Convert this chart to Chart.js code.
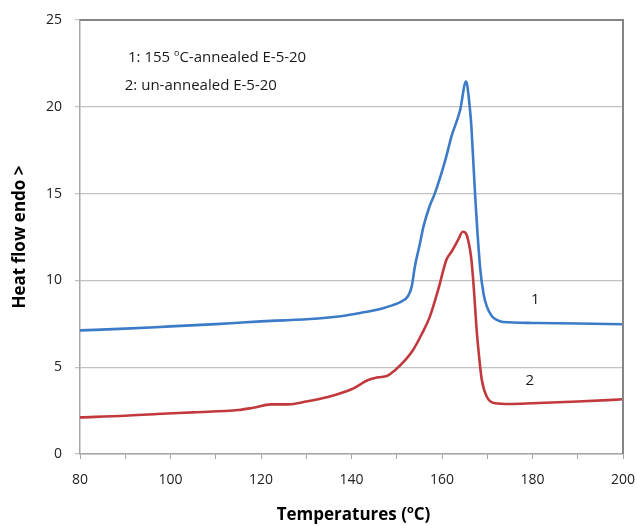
<!DOCTYPE html>
<html><head><meta charset="utf-8">
<script src="https://cdn.jsdelivr.net/npm/chart.js@4"></script>
<style>html,body{margin:0;padding:0;background:#fff}</style>
</head><body>
<canvas id="c" width="637" height="526"></canvas>
<script>
// ---- data ----
const annealedTemps = [80, 90, 100, 110, 115, 120, 125, 130, 135, 138, 141, 144, 147, 149, 151, 152.5, 153.3, 154.0, 155.1, 155.9, 157.3, 158.4, 160.7, 162.1, 164.0, 165.3, 165.6, 166.2, 166.5, 167.3, 168.4, 169.2, 169.9, 171.0, 172.1, 173.5, 180, 190, 200];
const annealedHeat  = [7.12, 7.22, 7.35, 7.48, 7.56, 7.64, 7.70, 7.76, 7.86, 7.95, 8.08, 8.22, 8.40, 8.56, 8.78, 9.10, 9.64, 10.79, 12.1, 13.1, 14.3, 15.0, 16.9, 18.3, 19.8, 21.45, 21.2, 19.8, 18.85, 15.0, 10.8, 9.2, 8.5, 7.95, 7.72, 7.60, 7.55, 7.52, 7.47];
const unannealedTemps = [80, 90, 97, 105, 115, 118, 122.3, 126, 130, 135, 140, 143.7, 145.9, 147.8, 149.5, 151.5, 153.6, 155.5, 157.3, 159.2, 161.0, 162.1, 163.5, 164.6, 165.3, 165.8, 166.5, 167.1, 167.6, 168.2, 168.8, 169.9, 171.7, 175, 180, 190, 200];
const unannealedHeat  = [2.11, 2.20, 2.30, 2.40, 2.53, 2.65, 2.86, 2.86, 3.02, 3.30, 3.73, 4.26, 4.42, 4.49, 4.80, 5.30, 5.99, 6.90, 7.90, 9.50, 11.2, 11.65, 12.3, 12.8, 12.7, 12.3, 11.2, 9.3, 7.33, 5.6, 4.26, 3.30, 2.92, 2.88, 2.92, 3.02, 3.15];
const xTickLabels = [80, 100, 120, 140, 160, 180, 200];
const yTickLabels = [0, 5, 10, 15, 20, 25];
const curveLabels = ['1', '2'];
const curveLabelX = [180.6, 179.4];
const curveLabelY = [8.87, 4.22];
// each note: [normal, superscript, normal]
const noteParts = [['1: 155 ', 'o', 'C-annealed E-5-20'], ['2: un-annealed E-5-20', '', '']];
const noteX = [90.6, 89.9];
const noteY = [22.8, 21.2];
const xTitleParts = ['Temperatures (', 'o', 'C)'];
const yTitleParts = ['Heat flow endo >', '', ''];

const FONT = '"Open Sans"';

function richWidth(ctx, parts, size, weight) {
  let w = 0;
  parts.forEach((p, i) => {
    if (!p) return;
    ctx.font = weight + ' ' + (i % 2 ? Math.round(size * 0.62) : size) + 'px ' + FONT;
    w += ctx.measureText(p).width;
  });
  return w;
}
function drawRich(ctx, parts, x, y, size, weight) {
  let cx = x;
  parts.forEach((p, i) => {
    if (!p) return;
    const sup = i % 2 === 1;
    const s = sup ? Math.round(size * 0.62) : size;
    ctx.font = weight + ' ' + s + 'px ' + FONT;
    ctx.fillText(p, cx, sup ? y - size * 0.33 : y);
    cx += ctx.measureText(p).width;
  });
}

const decor = {
  id: 'decor',
  afterDraw(chart) {
    const ctx = chart.ctx, a = chart.chartArea;
    const xs = chart.scales.x, ys = chart.scales.y;
    ctx.save();
    // plot frame top/right
    ctx.strokeStyle = '#858585';
    ctx.lineWidth = 2;
    ctx.beginPath();
    ctx.moveTo(a.left, a.top); ctx.lineTo(a.right, a.top); ctx.lineTo(a.right, a.bottom);
    ctx.stroke();
    ctx.fillStyle = '#1a1a1a';
    ctx.textBaseline = 'middle';
    ctx.textAlign = 'left';
    noteParts.forEach((parts, i) => {
      drawRich(ctx, parts, xs.getPixelForValue(noteX[i]), ys.getPixelForValue(noteY[i]), 15, 'normal');
    });
    ctx.textAlign = 'center';
    ctx.font = 'normal 15px ' + FONT;
    curveLabels.forEach((t, i) => {
      ctx.fillText(t, xs.getPixelForValue(curveLabelX[i]), ys.getPixelForValue(curveLabelY[i]));
    });
    ctx.textAlign = 'left';
    ctx.fillStyle = '#000';
    // x title
    const wx = richWidth(ctx, xTitleParts, 17, 'bold');
    drawRich(ctx, xTitleParts, (a.left + a.right) / 2 + 2 - wx / 2, a.bottom + 61, 17, 'bold');
    // y title
    const wy = richWidth(ctx, yTitleParts, 17, 'bold');
    ctx.translate(20, (a.top + a.bottom) / 2);
    ctx.rotate(-Math.PI / 2);
    drawRich(ctx, yTitleParts, -wy / 2, 0, 17, 'bold');
    ctx.restore();
  }
};

new Chart(document.getElementById('c'), {
  type: 'line',
  data: {
    datasets: [
      { label: '1', data: annealedTemps.map((t, i) => ({ x: t, y: annealedHeat[i] })), borderColor: '#3c7bc8', borderWidth: 2.6, pointRadius: 0, cubicInterpolationMode: 'monotone', fill: false },
      { label: '2', data: unannealedTemps.map((t, i) => ({ x: t, y: unannealedHeat[i] })), borderColor: '#c2393d', borderWidth: 2.6, pointRadius: 0, cubicInterpolationMode: 'monotone', fill: false }
    ]
  },
  options: {
    responsive: false,
    animation: false,
    devicePixelRatio: 1,
    layout: { padding: { top: 20, right: 14, left: 0, bottom: 0 } },
    plugins: { legend: { display: false }, tooltip: { enabled: false } },
    scales: {
      x: {
        type: 'linear', min: 80, max: 200,
        afterFit(s) { s.height = 72; s.paddingRight = 0; s.paddingLeft = 0; },
        ticks: { stepSize: 10, autoSkip: false, maxRotation: 0, padding: 13, color: '#222', font: { family: 'Open Sans', size: 14 },
          callback: v => xTickLabels.includes(v) ? String(v) : '' },
        grid: { drawOnChartArea: false, drawTicks: true, tickLength: 5, color: '#a6a6a6' },
        border: { color: '#a6a6a6', width: 1.5 }
      },
      y: {
        min: 0, max: 25,
        afterFit(s) { s.width = 80; s.paddingTop = 0; s.paddingBottom = 0; },
        ticks: { stepSize: 5, padding: 13, color: '#222', font: { family: 'Open Sans', size: 14 },
          callback: v => yTickLabels.includes(v) ? String(v) : '' },
        grid: { color: '#c2c2c2', lineWidth: 1.3, tickLength: 5 },
        border: { color: '#a6a6a6', width: 1.5 }
      }
    }
  },
  plugins: [decor]
});
</script>
</body></html>
